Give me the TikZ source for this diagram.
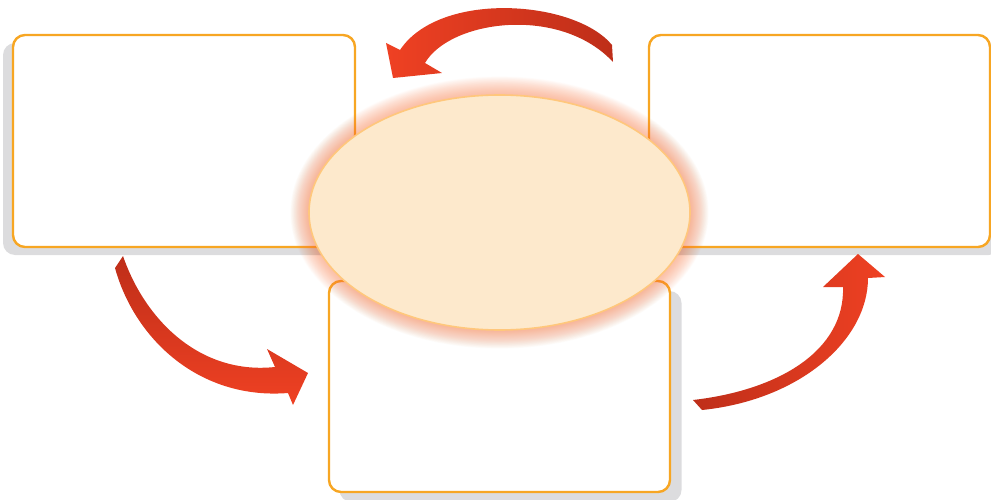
\documentclass[tikz,border=0pt]{standalone}
\usetikzlibrary{shapes.geometric}
\definecolor{boxline}{HTML}{F7A623}
\definecolor{shadowc}{HTML}{DCDCDE}
\definecolor{ellfill}{HTML}{FDE9CC}
\definecolor{ellline}{HTML}{FFC77C}
\definecolor{glowc}{HTML}{F7804F}
\definecolor{arrdark}{HTML}{BE2E19}
\definecolor{arrbright}{HTML}{EF4123}
\begin{document}
\begin{tikzpicture}[x=1pt,y=-1pt,
  boxbase/.style={rounded corners=12pt, minimum width=342pt, minimum height=212pt, inner sep=0pt, outer sep=0pt},
  box/.style={boxbase, draw=boxline, line width=2.4pt, fill=white},
  shadowbox/.style={boxbase, fill=shadowc},
  arrowshape/.style={draw=none}]
\useasboundingbox (0,0) rectangle (991,500);
% shadows
\node[shadowbox] (Ls) at (174,149) {};
\node[shadowbox] (Rs) at (829.5,149) {};
\node[shadowbox, minimum height=211pt] (Bs) at (510.5,396.5) {};
% boxes
\node[box] (L) at (184,141) {};
\node[box, minimum width=341pt] (R) at (819.5,141) {};
\node[box, minimum width=341pt, minimum height=211pt] (B) at (499.5,386.5) {};
% glow
\coordinate (cc) at (499.5,212.5);
\foreach \i in {1,...,30}{
  \fill[glowc, opacity=0.022] (cc) ellipse [x radius=190.5+0.62*\i, y radius=117.5+0.62*\i];
}
\node[ellipse, draw=ellline, line width=1.6pt, fill=ellfill, minimum width=381pt, minimum height=235pt, inner sep=0pt] (C) at (cc) {};
% top arrow
\shade[arrowshape, left color=arrbright, right color=arrdark]
  (612,45) .. controls (575,0) and (440,-10) .. (400,50)
  -- (386,43) -- (393,78) -- (442,73) -- (425,63)
  .. controls (450,20) and (560,5) .. (613,62) -- cycle;
% left arrow
\shade[arrowshape, top color=arrdark, bottom color=arrbright]
  (115,268) .. controls (135,340) and (200,400) .. (288,393)
  -- (293,405) -- (308,373) -- (267,349) -- (275,367)
  .. controls (200,375) and (145,320) .. (123,256) -- cycle;
% right arrow
\shade[arrowshape, left color=arrdark, right color=arrbright]
  (702,410) .. controls (800,400) and (868,340) .. (868,278)
  -- (885,277) -- (858,254) -- (823,287) -- (843,287)
  .. controls (845,350) and (780,390) .. (693,400) -- cycle;
\end{tikzpicture}
\end{document}
